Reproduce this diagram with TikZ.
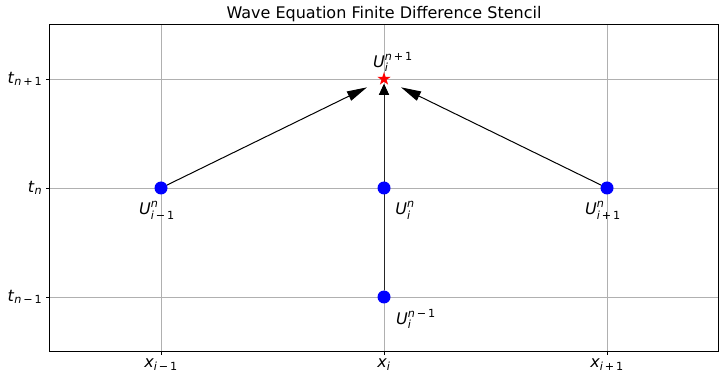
\documentclass[tikz,border=0pt]{standalone}
\usepackage{amsmath}
\usepackage{fontspec}
\setmainfont{DejaVu Sans}
\usetikzlibrary{arrows.meta, shapes.geometric, backgrounds}
\definecolor{gridgray}{RGB}{176, 176, 176}
\definecolor{ptblue}{RGB}{0, 0, 255}
\definecolor{ptred}{RGB}{255, 0, 0}

% stencil value U^{sup}_{sub} and tick label name_{sub}
\newcommand{\sval}[3]{$\text{\textit{#1}}^{\text{#2}}_{\text{#3}}$}
\newcommand{\tlab}[2]{$\text{\textit{#1}}_{\text{#2}}$}

\tikzset{
  gridline/.style={gridgray, line width=0.8pt},
  spine/.style={black, line width=0.8pt},
  gridpt/.style={circle, fill=ptblue, inner sep=0pt, minimum size=13pt},
  newpt/.style={star, star points=5, star point ratio=2.6, fill=ptred,
    inner sep=0pt, minimum size=14pt},
  stencil/.style={black, line width=1pt},
  diaghead/.style={-{Triangle[length=20pt, width=10pt]}},
  verthead/.style={-{Triangle[length=11pt, width=10pt, color=black]}},
}

\begin{document}
\begin{tikzpicture}[x=223pt, y=109pt, font=\fontsize{16}{19}\selectfont]

  \useasboundingbox (-1.7220, 1.7248) rectangle (1.5336, -1.7706);

  % grid points of the stencil
  \node[gridpt] (uleft) at (-1, 0) {};
  \node[gridpt] (umid) at (0, 0) {};
  \node[gridpt] (uright) at (1, 0) {};
  \node[gridpt] (uold) at (0, -1) {};
  \node[newpt] (unew) at (0, 1) {};

  \begin{scope}[on background layer]
    \foreach \v in {-1, 0, 1} {
      \draw[gridline] (\v, -1.5) -- (\v, 1.5);
      \draw[gridline] (-1.5, \v) -- (1.5, \v);
    }

    \draw[stencil, diaghead, shorten >=19pt] (uleft) -- (unew.center);
    \draw[stencil, diaghead, shorten >=19pt] (uright) -- (unew.center);
    \draw[stencil, black!85, verthead, shorten >=5pt] (uold) -- (unew.center);
    \draw[stencil, black!85, verthead, shorten >=5pt] (umid) -- (unew.center);
  \end{scope}

  \draw[spine] (-1.5, -1.5) rectangle (1.5, 1.5);

  % ticks and tick labels
  \foreach \v/\s in {-1/{\textit{i}\,−\,1}, 0/{\textit{i}}, 1/{\textit{i}\,+\,1}} {
    \draw[spine] (\v, -1.5) -- ++(0, -3.5pt);
    \node[anchor=north, inner sep=0pt] (xt\v) at ([yshift=-7pt] \v, -1.5) {\tlab{x}{\s}};
  }
  \foreach \v/\s in {-1/{\textit{n}\,−\,1}, 0/{\textit{n}}, 1/{\textit{n}\,+\,1}} {
    \draw[spine] (-1.5, \v) -- ++(-3.5pt, 0);
    \node[anchor=east, inner sep=0pt] (yt\v) at ([xshift=-7pt] -1.5, \v) {\tlab{t}{\s}};
  }

  % value labels
  \node (lnew) at (0.040, 1.156) {\sval{U}{\textit{n}\,+\,1}{\textit{i}}};
  \node (lleft) at (-1.018, -0.202) {\sval{U}{\textit{n}}{\textit{i}\,−\,1}};
  \node (lmid) at (0.094, -0.202) {\sval{U}{\textit{n}}{\textit{i}}};
  \node (lright) at (0.982, -0.202) {\sval{U}{\textit{n}}{\textit{i}\,+\,1}};
  \node (lold) at (0.143, -1.202) {\sval{U}{\textit{n}\,−\,1}{\textit{i}}};

  \node (title) at (0, 1.596) {Wave Equation Finite Difference Stencil};

\end{tikzpicture}
\end{document}
